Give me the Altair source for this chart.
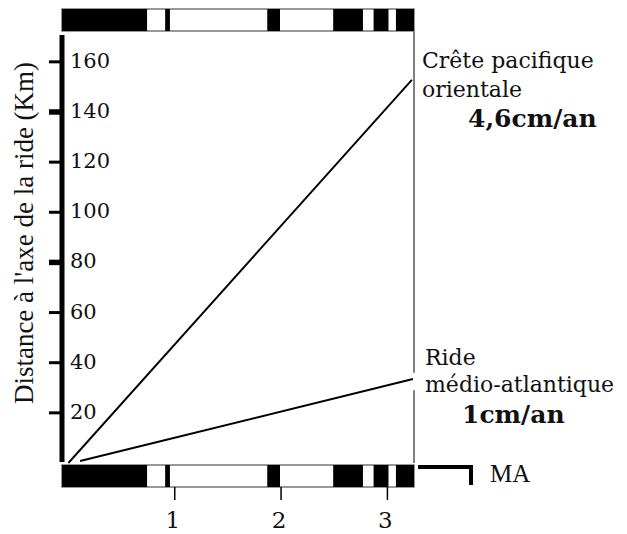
import altair as alt
import pandas as pd

# ---- data ----
years_crete = [0.0, 3.23]          # MA
km_crete = [0.0, 152.8]            # km
years_ride = [0.11, 3.24]
km_ride = [0.8, 33.5]

# magnetic stripes (normal polarity, black) in MA
normal_start = [-0.06, 0.91, 1.87, 2.49, 2.87, 3.08]
normal_end = [0.74, 0.955, 1.99, 2.77, 3.01, 3.25]

y_ticks = [20, 40, 60, 80, 100, 120, 140, 160]
x_ticks = [1, 2, 3]

# right frame segments (km), with a gap where the lower line ends
frame_start = [0, 36]
frame_end = [29, 172.3]

X_DOMAIN = [-0.06, 3.25]
Y_DOMAIN = [0, 172.3]
W, H = 352, 432

xs = alt.Scale(domain=X_DOMAIN, nice=False, zero=False)
ys = alt.Scale(domain=Y_DOMAIN, nice=False, zero=False)

lines_df = pd.DataFrame({
    "t": years_crete + years_ride,
    "d": km_crete + km_ride,
    "s": ["crete"] * 2 + ["ride"] * 2,
})
stripes_df = pd.DataFrame({"a": normal_start, "b": normal_end})
full_df = pd.DataFrame({"a": [X_DOMAIN[0]], "b": [X_DOMAIN[1]]})
frame_df = pd.DataFrame({"y1": frame_start, "y2": frame_end})
yt_df = pd.DataFrame({"v": y_ticks})
xt_df = pd.DataFrame({"v": x_ticks})

TXT = "#111111"

lines = alt.Chart(lines_df).mark_line(color="black", strokeWidth=1.9).encode(
    x=alt.X("t:Q", scale=xs, axis=None),
    y=alt.Y("d:Q", scale=ys, axis=None),
    detail="s:N",
)

# ---- y axis drawn from the tick list through the y scale ----
y_domain_line = alt.Chart(pd.DataFrame({"k": [0]})).mark_rule(color="black", strokeWidth=5).encode(
    x=alt.value(0), y=alt.value(4), y2=alt.value(431))
y_tick_marks = alt.Chart(yt_df).mark_rule(color="black").encode(
    y=alt.Y("v:Q", scale=ys, axis=None),
    x=alt.value(-13), x2=alt.value(0),
    strokeWidth=alt.condition("datum.v == 140 || datum.v == 80", alt.value(5.5), alt.value(3)),
)
y_tick_labels = alt.Chart(yt_df).mark_text(
    align="left", baseline="middle", font="DejaVu Serif", fontSize=21, color=TXT, dx=0
).encode(
    y=alt.Y("v:Q", scale=ys, axis=None), x=alt.value(8), text="v:Q")
y_title = alt.Chart(pd.DataFrame({"l": ["Distance à l'axe de la ride (Km)"]})).mark_text(
    angle=270, align="center", baseline="middle", font="Liberation Serif",
    fontSize=27, color=TXT).encode(text="l:N", x=alt.value(-37), y=alt.value(202))

# ---- x axis below the lower stripe bar ----
x_tick_marks = alt.Chart(xt_df).mark_rule(color="black", strokeWidth=1.5).encode(
    x=alt.X("v:Q", scale=xs, axis=None), y=alt.value(456), y2=alt.value(469))
x_tick_labels = alt.Chart(xt_df).mark_text(
    align="center", baseline="top", font="DejaVu Serif", fontSize=23, color=TXT, dx=-2
).encode(x=alt.X("v:Q", scale=xs, axis=None), y=alt.value(479), text="v:Q")


def bar(y0, y1):
    frame = alt.Chart(full_df).mark_rect(fill="white", stroke="#777777", strokeWidth=1.5).encode(
        x=alt.X("a:Q", scale=xs, axis=None), x2="b:Q",
        y=alt.value(y0), y2=alt.value(y1))
    stripes = alt.Chart(stripes_df).mark_rect(fill="black").encode(
        x=alt.X("a:Q", scale=xs, axis=None), x2="b:Q",
        y=alt.value(y0), y2=alt.value(y1))
    return frame + stripes

top_bar = bar(-22, 0)
bottom_bar = bar(434, 456)

right_frame = alt.Chart(frame_df).mark_rule(color="#808080", strokeWidth=2).encode(
    x=alt.value(W), y=alt.Y("y1:Q", scale=ys, axis=None), y2="y2:Q")


def label(txt, x, y, size=22, weight="normal", font="DejaVu Serif"):
    return alt.Chart(pd.DataFrame({"l": [txt]})).mark_text(
        align="left", baseline="alphabetic", font=font, fontSize=size,
        fontWeight=weight, color=TXT).encode(
        text="l:N", x=alt.value(x), y=alt.value(y))

labels = (
    label("Crête pacifique", 360, 37)
    + label("orientale", 360, 66)
    + label("4,6cm/an", 406, 96, size=25, weight="bold")
    + label("Ride", 363, 334)
    + label("médio-atlantique", 363, 361)
    + label("1cm/an", 400, 392, size=25, weight="bold")
    + label("MA", 428, 451, size=25, font="Liberation Serif")
)

scale_h = alt.Chart(pd.DataFrame({"k": [0]})).mark_rule(color="black", strokeWidth=4).encode(
    x=alt.value(356), x2=alt.value(411), y=alt.value(436))
scale_v = alt.Chart(pd.DataFrame({"k": [0]})).mark_rule(color="black", strokeWidth=4).encode(
    x=alt.value(409), y=alt.value(434), y2=alt.value(454))

chart = alt.layer(
    top_bar, bottom_bar, right_frame, lines,
    y_domain_line, y_tick_marks, y_tick_labels, y_title,
    x_tick_marks, x_tick_labels,
    labels, scale_h, scale_v,
).properties(
    width=W, height=H,
    autosize=alt.AutoSizeParams(type="none"),
    padding={"left": 54, "top": 23, "right": 205, "bottom": 70},
    background="white",
).configure_view(stroke=None)

chart.save("out.html", embed_options={"renderer": "svg", "actions": False})
